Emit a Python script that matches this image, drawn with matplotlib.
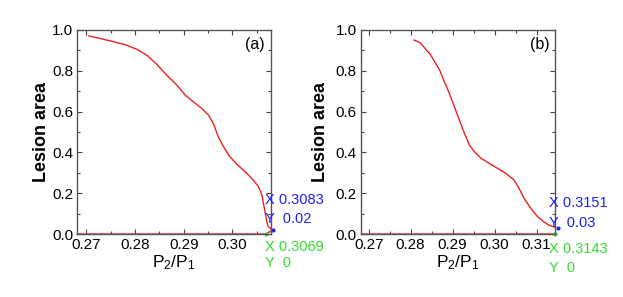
import matplotlib
matplotlib.use('Agg')
import matplotlib.pyplot as plt
from matplotlib.ticker import MultipleLocator

plt.rcParams['font.family'] = ['Liberation Sans', 'DejaVu Sans']
plt.rcParams['mathtext.fontset'] = 'custom'
plt.rcParams['mathtext.rm'] = 'Liberation Sans'
plt.rcParams['mathtext.it'] = 'Liberation Sans'

# panel (a) data (upper branch, then marked points, then the zero line)
xa = [0.2705, 0.2727, 0.2755, 0.2782, 0.2804, 0.2824, 0.2844, 0.2865, 0.2886,
      0.2903, 0.2920, 0.2937, 0.2951, 0.2961, 0.2971, 0.2982, 0.2995, 0.3009,
      0.3030, 0.3043, 0.3054, 0.3061, 0.3064, 0.3068, 0.3071, 0.3074,
      0.3083, 0.3069, 0.2680]
ya = [0.971, 0.959, 0.943, 0.926, 0.905, 0.877, 0.833, 0.779, 0.730,
      0.681, 0.648, 0.616, 0.583, 0.542, 0.477, 0.428, 0.379, 0.343,
      0.297, 0.265, 0.232, 0.191, 0.150, 0.101, 0.060, 0.036,
      0.02, 0.0, 0.0]
# panel (b)
xb = [0.2808, 0.2822, 0.2834, 0.2845, 0.2857, 0.2869, 0.2880, 0.2892, 0.2904,
      0.2916, 0.2928, 0.2940, 0.2952, 0.2968, 0.2987, 0.3007, 0.3027, 0.3046,
      0.3058, 0.3070, 0.3086, 0.3101, 0.3117, 0.3129, 0.3139,
      0.3151, 0.3143, 0.2680]
yb = [0.951, 0.938, 0.910, 0.886, 0.845, 0.804, 0.747, 0.690, 0.624,
      0.559, 0.494, 0.436, 0.403, 0.371, 0.346, 0.322, 0.297, 0.265,
      0.224, 0.175, 0.126, 0.088, 0.060, 0.044, 0.036,
      0.03, 0.0, 0.0]

# marked points (blue, green)
blue_a = (0.3083, 0.02)
green_a = (0.3069, 0.0)
blue_b = (0.3151, 0.03)
green_b = (0.3143, 0.0)

fig = plt.figure(figsize=(6.23, 2.97), dpi=100)
ax1 = fig.add_axes([0.124, 0.212, 0.3105, 0.687])
ax2 = fig.add_axes([0.579, 0.212, 0.312, 0.687])


def setup(ax, xlim, label, xticks, ylab_x):
    ax.set_xlim(*xlim)
    ax.set_ylim(0, 1.0)
    ax.set_xticks(xticks)
    ax.xaxis.set_minor_locator(MultipleLocator(0.005))
    ax.yaxis.set_major_locator(MultipleLocator(0.2))
    ax.yaxis.set_minor_locator(MultipleLocator(0.1))
    ax.set_xticklabels(['%.2f' % t for t in xticks])
    ax.set_yticklabels(['%.1f' % t for t in ax.get_yticks()])
    ax.tick_params(which='both', direction='in', top=True, right=True,
                   labelsize=11, color='#444444', pad=3)
    ax.tick_params(which='major', length=3.5, width=0.8)
    ax.tick_params(which='minor', length=2, width=0.8)
    for s in ax.spines.values():
        s.set_color('#555555')
        s.set_linewidth(1.0)
    ax.set_ylabel('Lesion area', fontsize=13, fontweight='bold')
    ax.yaxis.set_label_coords(ylab_x, 0.5)
    ax.set_xlabel('P$_2$/P$_1$', fontsize=12.5, labelpad=1)
    ax.text(0.97, 0.93, label, transform=ax.transAxes, ha='right', va='center', fontsize=11.5)


def marks(ax, blue, green, ty):
    ax.plot(*blue, 'o', color='#2020ee', ms=2, clip_on=False)
    ax.plot(*green, 'o', color='#30dd30', ms=2, clip_on=False)
    tr = ax.get_yaxis_transform()
    x0 = 0.968
    ax.text(x0, ty[0], 'X %.4f' % blue[0], color='#2020ee', fontsize=10.5,
            transform=tr, va='center', ha='left', clip_on=False)
    ax.text(x0, ty[1], 'Y  %.2f' % blue[1], color='#2020ee', fontsize=10.5,
            transform=tr, va='center', ha='left', clip_on=False)
    ax.text(x0, ty[2], 'X %.4f' % green[0], color='#30dd30', fontsize=10.5,
            transform=tr, va='center', ha='left', clip_on=False)
    ax.text(x0, ty[3], 'Y  %d' % green[1], color='#30dd30', fontsize=10.5,
            transform=tr, va='center', ha='left', clip_on=False)


ax1.plot(xa, ya, '-', color='#ee2020', lw=1.0)
setup(ax1, (0.2681, 0.3079), '(a)', [0.27, 0.28, 0.29, 0.30], -0.14)
marks(ax1, blue_a, green_a, [0.167, 0.074, -0.062, -0.142])

ax2.plot(xb, yb, '-', color='#ee2020', lw=1.0)
setup(ax2, (0.2681, 0.3144), '(b)', [0.27, 0.28, 0.29, 0.30, 0.31], -0.162)
marks(ax2, blue_b, green_b, [0.15, 0.054, -0.074, -0.167])

fig.savefig('out.png', dpi=100)
